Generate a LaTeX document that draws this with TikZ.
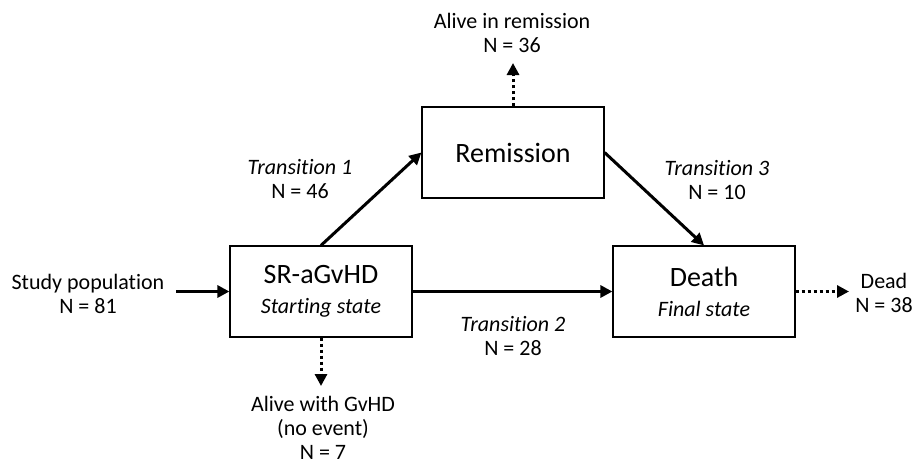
\documentclass[tikz,border=0pt]{standalone}
\usepackage{fontspec}
\setmainfont{Carlito}[Ligatures=NoCommon]
\usepackage{tikz}
\usetikzlibrary{arrows.meta}

\begin{document}
\begin{tikzpicture}[
      x=1pt, y=-1pt,
      state/.style={draw, line width=1.2pt, minimum width=182pt, minimum height=91pt,
        align=center, font=\fontsize{28}{32}\selectfont},
      lbl/.style={align=center, font=\fontsize{22}{24}\selectfont},
      trans/.style={line width=3pt, -{Triangle[length=12pt,width=12pt]}},
      outcome/.style={line width=3pt, dash pattern=on 3.5pt off 2.5pt,
        -{Triangle[length=12pt,width=12pt]}}
    ]
    \useasboundingbox (0,0) rectangle (912,464);

    \node[state] (sr) at (321,291.5) {SR-aGvHD\\[-2pt]{\fontsize{22}{24}\selectfont\itshape Starting state}};
    \node[state] (remission) at (513,152.5) {Remission};
    \node[state] (death) at (704,291.5) {Death\\[-2pt]{\fontsize{22}{24}\selectfont\itshape Final state}};

    \node[lbl] (study) at (88,294) {Study population\\N = 81};
    \node[lbl] (t1) at (300,179) {\textit{Transition 1}\\N = 46};
    \node[lbl] (t2) at (513,336) {\textit{Transition 2}\\N = 28};
    \node[lbl] (t3) at (717,180) {\textit{Transition 3}\\N = 10};
    \node[lbl] (aliverem) at (512,33) {Alive in remission\\N = 36};
    \node[lbl] (dead) at (884,293) {Dead\\N = 38};
    \node[lbl, inner sep=1pt] (alivegvhd) at (323,428) {Alive with GvHD\\(no event)\\N = 7};

    \coordinate (studyend) at (176,291.5);
    \coordinate (remout) at (513,63);
    \coordinate (deadout) at (849,291.5);
    \coordinate (srout) at (321,386);

    \draw[trans] (studyend) -- (sr.west);
    \draw[trans] (sr.north) -- (remission.west);
    \draw[trans] (remission.east) -- (death.north);
    \draw[trans] (sr.east) -- (death.west);
    \draw[outcome] (remission.north) -- (remout);
    \draw[outcome] (death.east) -- (deadout);
    \draw[outcome] (sr.south) -- (srout);
\end{tikzpicture}
\end{document}
